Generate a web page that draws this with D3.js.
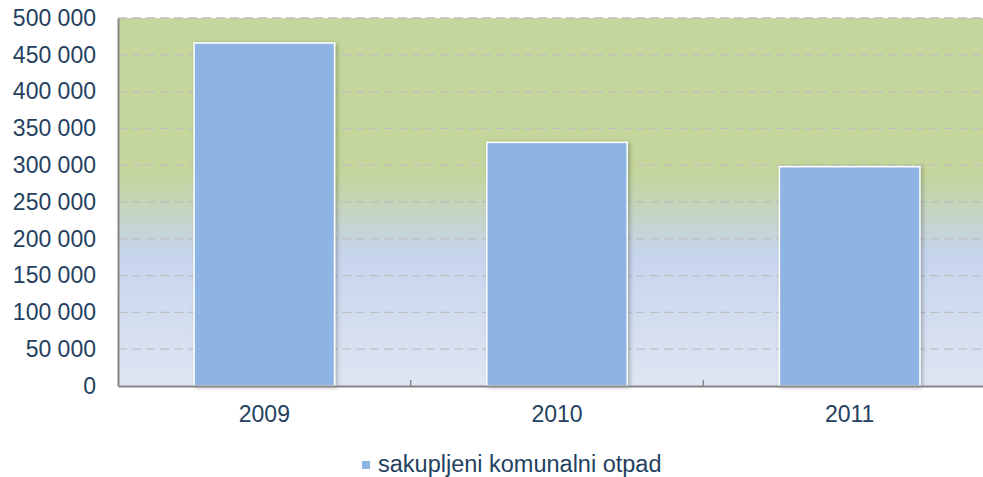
<!DOCTYPE html>
<html>
<head>
<meta charset="utf-8">
<script src="https://cdn.jsdelivr.net/npm/d3@7"></script>
<style>
  html, body { margin: 0; padding: 0; background: #ffffff; }
  svg { display: block; font-family: "Liberation Sans", Arial, sans-serif; }
</style>
</head>
<body>
<svg id="chart" width="983" height="477"></svg>
<script>
const categories = ["2009", "2010", "2011"];
const values = [466000, 331000, 298000];
const yTicks = [0, 50000, 100000, 150000, 200000, 250000, 300000, 350000, 400000, 450000, 500000];
const seriesName = "sakupljeni komunalni otpad";

const svg = d3.select("#chart");
const W = 983, H = 477;
const margin = { left: 118, top: 18, right: -13, bottom: 91 };
const plotW = W - margin.left - margin.right;
const plotH = H - margin.top - margin.bottom;
const textColor = "#243f60";

const defs = svg.append("defs");
const grad = defs.append("linearGradient").attr("id", "bg").attr("x1", 0).attr("y1", 0).attr("x2", 0).attr("y2", 1);
[["0%", "#c4d69b"], ["42%", "#c4d69b"], ["64%", "#c6d4ec"], ["100%", "#dfe6f3"]]
  .forEach(([o, c]) => grad.append("stop").attr("offset", o).attr("stop-color", c));

const shadow = defs.append("filter").attr("id", "shadow").attr("x", "-10%").attr("y", "-10%").attr("width", "130%").attr("height", "130%");
shadow.append("feDropShadow").attr("dx", 2).attr("dy", 1).attr("stdDeviation", 2).attr("flood-color", "#000").attr("flood-opacity", 0.25);

const g = svg.append("g").attr("transform", `translate(${margin.left},${margin.top})`);

const x = d3.scaleBand().domain(categories).range([0, plotW]).paddingInner(0.52).paddingOuter(0.26);
const y = d3.scaleLinear().domain([0, 500000]).range([plotH, 0]);

g.append("rect").attr("x", 0).attr("y", 0).attr("width", plotW).attr("height", plotH).attr("fill", "url(#bg)");

// gridlines
g.append("g").selectAll("line").data(yTicks.filter(d => d > 0)).join("line")
  .attr("x1", 0).attr("x2", plotW)
  .attr("y1", d => y(d)).attr("y2", d => y(d))
  .attr("stroke", "#bfbfbf").attr("stroke-width", 1.3).attr("stroke-dasharray", "9,5");

// bars
g.append("g").selectAll("rect").data(categories).join("rect")
  .attr("x", d => x(d))
  .attr("y", (d, i) => y(values[i]))
  .attr("width", x.bandwidth())
  .attr("height", (d, i) => plotH - y(values[i]))
  .attr("fill", "#8eb4e3")
  .attr("stroke", "#ffffff").attr("stroke-width", 1.5)
  .attr("filter", "url(#shadow)");

// y axis
const yAxis = d3.axisLeft(y).tickValues(yTicks).tickSize(0).tickPadding(22)
  .tickFormat(d => d3.format(",")(d).replace(/,/g, " "));
const ya = g.append("g").call(yAxis);
ya.select(".domain").attr("stroke", "#868686").attr("stroke-width", 2);
ya.selectAll("text").attr("fill", textColor).attr("font-size", 23);

// x axis
const step = x.step();
const xa = g.append("g").attr("transform", `translate(0,${plotH})`).call(d3.axisBottom(x).tickSize(0).tickPadding(20));
xa.select(".domain").attr("stroke", "#868686").attr("stroke-width", 2);
xa.selectAll("text").attr("fill", textColor).attr("font-size", 23);
g.append("g").selectAll("line").data(d3.range(1, categories.length)).join("line")
  .attr("x1", d => d * step).attr("x2", d => d * step)
  .attr("y1", plotH).attr("y2", plotH - 6)
  .attr("stroke", "#868686").attr("stroke-width", 1.5);

// legend
const legend = svg.append("g").attr("transform", "translate(362,461)");
legend.append("rect").attr("width", 8).attr("height", 8).attr("fill", "#8eb4e3");
legend.append("text").attr("x", 16).attr("y", 11).attr("fill", textColor).attr("font-size", 23.5).text(seriesName);
</script>
</body>
</html>
